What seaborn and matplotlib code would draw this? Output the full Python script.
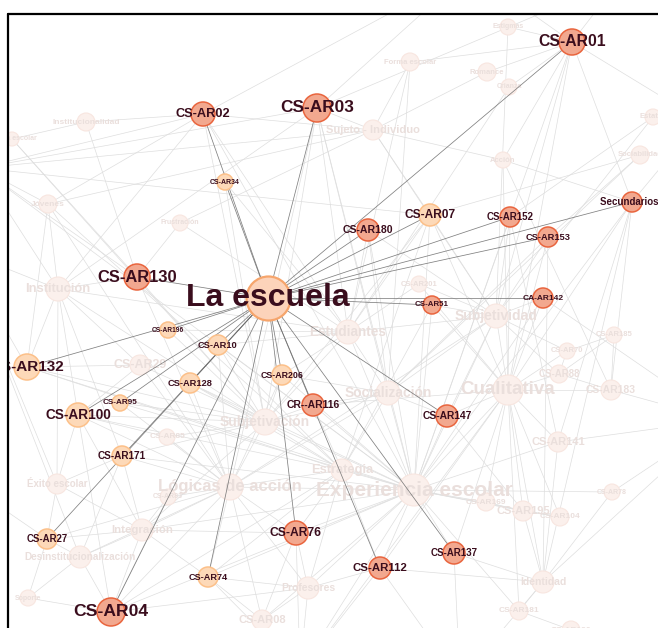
import pandas as pd
import matplotlib.pyplot as plt
import seaborn as sns
from matplotlib.collections import LineCollection

sns.set_theme(style='white')
plt.rcParams['font.family'] = ['Liberation Sans', 'DejaVu Sans']

# nodes: name, x, y (pixel layout), radius, group, label font size
names = ['La escuela', 'CS-AR01', 'CS-AR02', 'CS-AR03', 'CS-AR34', 'CS-AR180', 'CS-AR07',
         'CS-AR152', 'CS-AR153', 'Secundarios I', 'CS-AR130', 'CA-AR142', 'CS-AR51',
         'CS-AR196', 'CS-AR10', 'CS-AR132', 'CS-AR128', 'CS-AR206', 'CS-AR95', 'CS-AR100',
         'CR--AR116', 'CS-AR147', 'CS-AR171', 'CS-AR27', 'CS-AR76', 'CS-AR74', 'CS-AR112',
         'CS-AR137', 'CS-AR04',
         'Institucionalidad', 'Norma escolar', 'Individualización', 'Jóvenes', 'Institución',
         'Frustración', 'CS-AR29', 'Estigmas', 'Forma escolar', 'Romance', 'Crianza',
         'Sujeto - Individuo', 'Acción', 'Estatus', 'Sociabilidad', 'CS-AR201', 'Estudiantes',
         'Subjetividad', 'CS-AR185', 'CS-AR70', 'CS-AR88', 'Cualitativa', 'CS-AR183',
         'Socialización', 'CS-AR141', 'CS-AR78', 'Subjetivación', 'CS-AR85', 'Éxito escolar',
         'CS-AR83', 'Lógicas de acción', 'Estrategia', 'Experiencia escolar', 'CS-AR169',
         'CS-AR195', 'CS-AR104', 'Integración', 'Desinstitucionalización', 'Soporte',
         'Profesores', 'Identidad', 'CS-AR181', 'CS-AR08', 'Estudiante', 'CS-AR190',
         'CS-AR05', 'CS-AR06', 'CS-AR09', 'CS-AR11', 'CS-AR12', 'CS-AR13', 'CS-AR14']
xs = [268, 572, 203, 317, 225, 368, 430, 510, 548, 632, 137, 543, 432, 168, 218, 27, 190,
      282, 120, 78, 313, 447, 122, 47, 296, 208, 380, 454, 111,
      86, 12, -20, 48, 58, 180, 140, 508, 410, 487, 509, 373, 503, 653, 640, 419, 348, 496,
      614, 567, 559, 508, 611, 388, 558, 612, 265, 167, 57, 168, 230, 342, 414, 486, 523,
      560, 142, 80, 28, 308, 543, 519, 262, -20, 571,
      470, 620, 700, 720, 300, 460, -40]
ys = [298, 42, 114, 108, 182, 230, 215, 217, 237, 202, 277, 298, 305, 330, 345, 367, 383,
      375, 403, 415, 405, 416, 456, 539, 533, 577, 568, 553, 612,
      122, 139, 168, 204, 289, 223, 365, 27, 62, 72, 87, 130, 160, 117, 155, 284, 332, 316,
      335, 351, 374, 390, 390, 393, 442, 492, 422, 437, 484, 497, 487, 470, 490, 502, 511,
      517, 530, 557, 598, 588, 582, 611, 620, 493, 630,
      -30, -20, 120, 420, 670, 680, 250]
radii = [22, 13, 12, 14, 8, 11, 11, 10, 10, 10, 13, 10, 9, 8, 10, 13, 10, 10, 8, 12, 11,
         11, 10, 10, 12, 10, 11, 11, 14,
         9, 7, 7, 9, 12, 8, 10, 8, 9, 9, 8, 10, 8, 8, 9, 8, 12, 12, 8, 8, 9, 15, 10, 12,
         10, 8, 13, 8, 10, 8, 13, 11, 16, 9, 10, 9, 11, 11, 8, 11, 11, 9, 10, 0, 9,
         8, 8, 8, 8, 8, 8, 8]
groups = ['hub'] + ['dark', 'dark', 'dark', 'light', 'dark', 'light', 'dark', 'dark', 'dark',
                    'dark', 'dark', 'dark', 'light', 'light', 'light', 'light', 'light',
                    'light', 'light', 'dark', 'dark', 'light', 'light', 'dark', 'light',
                    'dark', 'dark', 'dark'] + ['faded'] * 52
fsizes = [23, 11.3, 9.2, 12.4, 5, 7.6, 8.6, 7, 6.7, 7, 11.9, 6, 5.7, 4.8, 6.7, 11, 6.7,
          6.4, 5.9, 9.8, 7.5, 7.4, 7.2, 6.9, 8.7, 6.6, 8.2, 7, 12.6,
          6, 5, 5, 6, 9.4, 5, 9, 5, 5.5, 5.5, 5, 8, 5.5, 5.5, 5.5, 5.5, 9.8, 10, 5.5, 5.5,
          7, 13.5, 7.5, 10, 8, 5, 10, 6, 7, 5, 12, 9.3, 15, 6, 8, 6, 8.2, 7.2, 5, 7.5, 7.5,
          6, 8, 5, 6, 0, 0, 0, 0, 0, 0, 0]

escuela_links = names[1:29]

faint_links = [
    ('CS-AR01', 'Estigmas'), ('CS-AR01', 'Romance'), ('CS-AR01', 'Crianza'),
    ('CS-AR01', 'Secundarios I'), ('CS-AR01', 'Cualitativa'), ('CS-AR01', 'Subjetividad'),
    ('CS-AR01', 'Experiencia escolar'), ('CS-AR01', 'CS-AR05'), ('CS-AR01', 'CS-AR06'),
    ('CS-AR01', 'Acción'), ('CS-AR01', 'Forma escolar'), ('CS-AR01', 'CS-AR09'),
    ('CS-AR02', 'Institucionalidad'), ('CS-AR02', 'Individualización'), ('CS-AR02', 'Sujeto - Individuo'),
    ('CS-AR02', 'Estudiantes'), ('CS-AR02', 'Subjetivación'), ('CS-AR02', 'Institución'),
    ('CS-AR02', 'CS-AR05'), ('CS-AR02', 'Experiencia escolar'), ('CS-AR02', 'Jóvenes'),
    ('CS-AR03', 'Sujeto - Individuo'), ('CS-AR03', 'Institución'), ('CS-AR03', 'Estudiantes'),
    ('CS-AR03', 'Socialización'), ('CS-AR03', 'Experiencia escolar'), ('CS-AR03', 'CS-AR05'),
    ('CS-AR03', 'Individualización'), ('CS-AR03', 'Subjetivación'), ('CS-AR03', 'Lógicas de acción'),
    ('CS-AR03', 'CS-AR06'),
    ('Sujeto - Individuo', 'Acción'), ('Sujeto - Individuo', 'Forma escolar'),
    ('Sujeto - Individuo', 'Subjetividad'), ('Sujeto - Individuo', 'CS-AR07'),
    ('Sujeto - Individuo', 'Jóvenes'), ('Sujeto - Individuo', 'Individualización'),
    ('Acción', 'CS-AR183'), ('Acción', 'Secundarios I'), ('Acción', 'Cualitativa'),
    ('Romance', 'Sujeto - Individuo'), ('Crianza', 'Estudiantes'), ('Estigmas', 'Subjetividad'),
    ('Forma escolar', 'Estudiantes'), ('Forma escolar', 'Socialización'),
    ('Estatus', 'Subjetividad'), ('Estatus', 'CS-AR152'), ('Sociabilidad', 'CS-AR153'),
    ('Sociabilidad', 'Socialización'), ('Sociabilidad', 'CS-AR07'),
    ('Secundarios I', 'CS-AR183'), ('Secundarios I', 'Cualitativa'), ('Secundarios I', 'Identidad'),
    ('Secundarios I', 'Experiencia escolar'), ('Secundarios I', 'CS-AR141'), ('Secundarios I', 'CS-AR09'),
    ('CS-AR07', 'Subjetividad'), ('CS-AR07', 'Estudiantes'), ('CS-AR07', 'Cualitativa'),
    ('CS-AR07', 'Experiencia escolar'), ('CS-AR07', 'Subjetivación'), ('CS-AR07', 'Estrategia'),
    ('CS-AR180', 'Subjetividad'), ('CS-AR180', 'Estudiantes'), ('CS-AR180', 'Experiencia escolar'),
    ('CS-AR180', 'Socialización'),
    ('CS-AR152', 'Subjetividad'), ('CS-AR152', 'Cualitativa'), ('CS-AR152', 'Experiencia escolar'),
    ('CS-AR152', 'CS-AR141'), ('CS-AR153', 'Cualitativa'), ('CS-AR153', 'Identidad'),
    ('CS-AR153', 'Subjetividad'), ('CS-AR153', 'Socialización'),
    ('CA-AR142', 'CS-AR11'), ('CA-AR142', 'Subjetividad'), ('CA-AR142', 'Experiencia escolar'),
    ('CA-AR142', 'Cualitativa'), ('CS-AR51', 'Subjetividad'), ('CS-AR51', 'Cualitativa'),
    ('CS-AR51', 'Experiencia escolar'), ('CS-AR51', 'Estrategia'), ('CS-AR201', 'Subjetividad'),
    ('CS-AR201', 'Estudiantes'), ('CS-AR201', 'Cualitativa'),
    ('Subjetividad', 'Cualitativa'), ('Subjetividad', 'CS-AR70'), ('Subjetividad', 'CS-AR88'),
    ('Subjetividad', 'Experiencia escolar'), ('Subjetividad', 'Socialización'),
    ('Subjetividad', 'Estudiantes'), ('Subjetividad', 'Lógicas de acción'),
    ('Cualitativa', 'CS-AR70'), ('Cualitativa', 'CS-AR88'), ('Cualitativa', 'CS-AR183'),
    ('Cualitativa', 'CS-AR141'), ('Cualitativa', 'CS-AR195'), ('Cualitativa', 'CS-AR169'),
    ('Cualitativa', 'CS-AR104'), ('Cualitativa', 'Experiencia escolar'), ('Cualitativa', 'CS-AR181'),
    ('Cualitativa', 'Identidad'), ('Cualitativa', 'CS-AR12'), ('Cualitativa', 'CS-AR147'),
    ('CS-AR185', 'CS-AR70'), ('CS-AR185', 'CS-AR183'), ('CS-AR185', 'CS-AR88'),
    ('CS-AR70', 'CS-AR88'), ('CS-AR88', 'CS-AR183'), ('CS-AR183', 'CS-AR11'),
    ('CS-AR141', 'CS-AR11'), ('CS-AR141', 'Identidad'), ('CS-AR141', 'Experiencia escolar'),
    ('CS-AR78', 'CS-AR11'), ('CS-AR78', 'Experiencia escolar'), ('CS-AR78', 'Identidad'),
    ('Identidad', 'CS-AR195'), ('Identidad', 'CS-AR181'), ('Identidad', 'CS-AR112'),
    ('Identidad', 'CS-AR13'), ('Identidad', 'CS-AR137'), ('Identidad', 'CS-AR11'),
    ('CS-AR137', 'Experiencia escolar'), ('CS-AR137', 'Cualitativa'), ('CS-AR137', 'CS-AR13'),
    ('CS-AR112', 'Experiencia escolar'), ('CS-AR112', 'Estrategia'), ('CS-AR112', 'Profesores'),
    ('CS-AR112', 'CS-AR12'), ('CS-AR112', 'CS-AR13'), ('CS-AR112', 'Cualitativa'),
    ('CS-AR147', 'Experiencia escolar'), ('CS-AR147', 'Socialización'), ('CS-AR147', 'Subjetividad'),
    ('CS-AR147', 'CS-AR195'), ('CS-AR169', 'CS-AR195'), ('CS-AR195', 'CS-AR104'),
    ('CS-AR169', 'Experiencia escolar'), ('CS-AR195', 'Experiencia escolar'),
    ('CS-AR104', 'Experiencia escolar'), ('CS-AR181', 'Experiencia escolar'), ('CS-AR181', 'CS-AR190'),
    ('Experiencia escolar', 'Estrategia'), ('Experiencia escolar', 'Socialización'),
    ('Experiencia escolar', 'Subjetivación'), ('Experiencia escolar', 'Lógicas de acción'),
    ('Experiencia escolar', 'Profesores'), ('Experiencia escolar', 'CS-AR08'),
    ('Experiencia escolar', 'Integración'), ('Experiencia escolar', 'CS-AR76'),
    ('Experiencia escolar', 'CS-AR12'), ('Experiencia escolar', 'Estudiantes'),
    ('Experiencia escolar', 'CS-AR74'), ('Experiencia escolar', 'CS-AR206'),
    ('Experiencia escolar', 'CR--AR116'), ('Experiencia escolar', 'CS-AR128'),
    ('Estrategia', 'Lógicas de acción'), ('Estrategia', 'Subjetivación'), ('Estrategia', 'CS-AR76'),
    ('Estrategia', 'Profesores'), ('Estrategia', 'Socialización'), ('Estrategia', 'CS-AR10'),
    ('Estrategia', 'CS-AR128'), ('Estrategia', 'CS-AR100'),
    ('Socialización', 'Estudiantes'), ('Socialización', 'Subjetivación'), ('Socialización', 'CR--AR116'),
    ('Socialización', 'CS-AR206'), ('Socialización', 'Lógicas de acción'),
    ('Estudiantes', 'Subjetivación'), ('Estudiantes', 'CS-AR206'), ('Estudiantes', 'CS-AR10'),
    ('Estudiantes', 'Institución'), ('Estudiantes', 'CS-AR196'),
    ('Subjetivación', 'Lógicas de acción'), ('Subjetivación', 'CS-AR128'), ('Subjetivación', 'CS-AR10'),
    ('Subjetivación', 'CS-AR85'), ('Subjetivación', 'Integración'), ('Subjetivación', 'CS-AR100'),
    ('Subjetivación', 'CR--AR116'), ('Subjetivación', 'CS-AR206'), ('Subjetivación', 'CS-AR29'),
    ('Lógicas de acción', 'CS-AR83'), ('Lógicas de acción', 'CS-AR85'), ('Lógicas de acción', 'Integración'),
    ('Lógicas de acción', 'CS-AR74'), ('Lógicas de acción', 'CS-AR76'), ('Lógicas de acción', 'CS-AR128'),
    ('Lógicas de acción', 'CS-AR171'), ('Lógicas de acción', 'Profesores'), ('Lógicas de acción', 'CS-AR08'),
    ('Lógicas de acción', 'Desinstitucionalización'), ('Lógicas de acción', 'CS-AR04'),
    ('Integración', 'CS-AR83'), ('Integración', 'CS-AR171'), ('Integración', 'CS-AR27'),
    ('Integración', 'Desinstitucionalización'), ('Integración', 'CS-AR04'), ('Integración', 'CS-AR74'),
    ('Integración', 'CS-AR100'), ('Integración', 'Éxito escolar'),
    ('Desinstitucionalización', 'CS-AR27'), ('Desinstitucionalización', 'Soporte'),
    ('Desinstitucionalización', 'CS-AR04'), ('Desinstitucionalización', 'CS-AR171'),
    ('Desinstitucionalización', 'CS-AR14'), ('Soporte', 'CS-AR04'), ('Soporte', 'CS-AR27'),
    ('Éxito escolar', 'CS-AR27'), ('Éxito escolar', 'CS-AR100'), ('Éxito escolar', 'CS-AR171'),
    ('Éxito escolar', 'Institución'), ('Éxito escolar', 'CS-AR14'), ('Estudiante', 'CS-AR27'),
    ('Profesores', 'CS-AR08'), ('Profesores', 'CS-AR74'), ('Profesores', 'CS-AR76'),
    ('Profesores', 'CS-AR12'), ('Profesores', 'CS-AR04'), ('CS-AR08', 'CS-AR74'),
    ('CS-AR08', 'CS-AR12'), ('CS-AR08', 'CS-AR76'), ('CS-AR74', 'CS-AR12'), ('CS-AR76', 'CS-AR12'),
    ('Institución', 'Jóvenes'), ('Institución', 'Individualización'), ('Institución', 'CS-AR130'),
    ('Institución', 'CS-AR100'), ('Institución', 'CS-AR132'), ('Institución', 'CS-AR29'),
    ('Institución', 'Subjetivación'), ('Institución', 'CS-AR171'), ('Institución', 'CS-AR14'),
    ('Institucionalidad', 'CS-AR130'), ('Institucionalidad', 'Norma escolar'),
    ('Individualización', 'Jóvenes'), ('Individualización', 'CS-AR130'), ('Individualización', 'CS-AR07'),
    ('Individualización', 'Experiencia escolar'), ('Norma escolar', 'CS-AR130'),
    ('Norma escolar', 'Subjetivación'), ('Jóvenes', 'CS-AR132'), ('Jóvenes', 'Lógicas de acción'),
    ('Jóvenes', 'Estrategia'), ('Frustración', 'CS-AR130'), ('Frustración', 'Estudiantes'),
    ('Frustración', 'Sujeto - Individuo'), ('CS-AR29', 'CS-AR132'), ('CS-AR29', 'CS-AR100'),
    ('CS-AR29', 'Lógicas de acción'), ('CS-AR130', 'Subjetivación'), ('CS-AR130', 'Lógicas de acción'),
    ('CS-AR132', 'Subjetivación'), ('CS-AR132', 'Estrategia'), ('CS-AR132', 'Experiencia escolar'),
    ('CS-AR132', 'CS-AR14'), ('CS-AR100', 'Lógicas de acción'), ('CS-AR100', 'CS-AR04'),
    ('CS-AR95', 'Subjetivación'), ('CS-AR95', 'Experiencia escolar'), ('CS-AR95', 'Lógicas de acción'),
    ('CS-AR171', 'Experiencia escolar'), ('CS-AR171', 'Subjetivación'),
    ('CS-AR10', 'Lógicas de acción'), ('CS-AR10', 'Experiencia escolar'), ('CS-AR196', 'Subjetivación'),
    ('CS-AR206', 'Lógicas de acción'), ('CR--AR116', 'Estrategia'), ('CR--AR116', 'Cualitativa'),
    ('CS-AR76', 'Integración'), ('CS-AR74', 'Estrategia'), ('CS-AR04', 'Experiencia escolar'),
    ('CS-AR04', 'Estrategia'), ('CS-AR27', 'Lógicas de acción'), ('CS-AR34', 'Subjetivación'),
    ('CS-AR34', 'Estudiantes'), ('CS-AR85', 'CS-AR100'), ('CS-AR83', 'CS-AR04'),
]

nodes = pd.DataFrame({'name': names, 'x': xs, 'y': ys, 'r': radii,
                      'group': groups, 'fs': fsizes})
nodes['s'] = (nodes['r'] * 2 * 0.72) ** 2
pos = dict(zip(nodes['name'], zip(nodes['x'], nodes['y'])))

fig = plt.figure(figsize=(6.58, 6.28), dpi=100)
ax = fig.add_axes([8 / 658, 0, 650 / 658, 614 / 628])
ax.set_xlim(8, 658)
ax.set_ylim(628, 14)
ax.set_axis_off()

ax.add_collection(LineCollection([[pos[a], pos[b]] for a, b in faint_links],
                                 colors='#dedede', linewidths=0.5, zorder=1))

styles = {
    'faded': ('#fbf0ec', '#f8e6e0', 0.8),
    'light': ('#fdd9b8', '#fcc089', 1.1),
    'dark': ('#f2a88f', '#e9653e', 1.1),
    'hub': ('#fcd3ba', '#f6a56c', 1.6),
}

faded = nodes[(nodes['group'] == 'faded') & (nodes['r'] > 0)]
sns.scatterplot(data=faded, x='x', y='y', size='s', sizes=(faded['s'].min(), faded['s'].max()),
                color=styles['faded'][0], edgecolor=styles['faded'][1],
                linewidth=styles['faded'][2], legend=False, ax=ax, zorder=2)
for _, row in faded.iterrows():
    if row['fs'] > 0:
        ax.text(row['x'], row['y'], row['name'], fontsize=row['fs'], fontweight='bold',
                color='#eadfdc', ha='center', va='center', zorder=3, clip_on=True)

ax.add_collection(LineCollection([[pos['La escuela'], pos[n]] for n in escuela_links],
                                 colors='#6a6a6a', linewidths=0.55, alpha=0.85, zorder=4))

for grp in ['light', 'dark', 'hub']:
    sub = nodes[nodes['group'] == grp]
    fc, ec, lw = styles[grp]
    sns.scatterplot(data=sub, x='x', y='y', size='s', sizes=(sub['s'].min(), sub['s'].max()),
                    color=fc, edgecolor=ec, linewidth=lw, legend=False, ax=ax, zorder=5)

for _, row in nodes[nodes['group'] != 'faded'].iterrows():
    ax.text(row['x'], row['y'], row['name'], fontsize=row['fs'], fontweight='bold',
            color='#3a0d1d', ha='center', va='center', zorder=6, clip_on=True)

# frame: top and left border only
ax.plot([8, 658], [14, 14], color='black', lw=1.6, clip_on=False, zorder=7)
ax.plot([8, 8], [14, 628], color='black', lw=1.6, clip_on=False, zorder=7)

fig.savefig('out.png', dpi=100)
